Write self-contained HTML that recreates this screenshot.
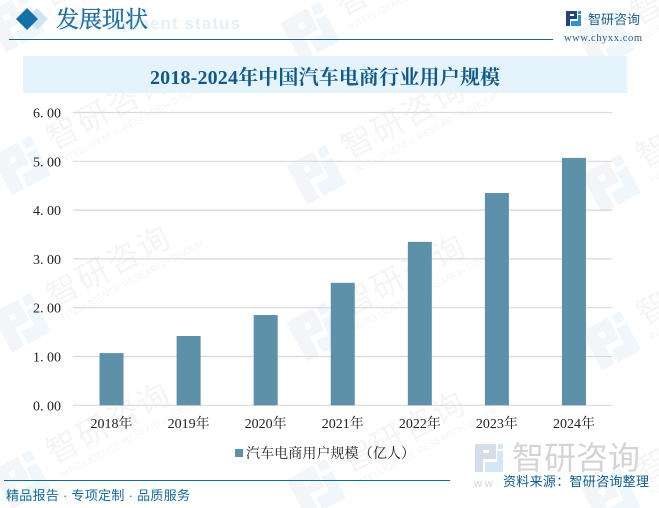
<!DOCTYPE html>
<html lang="zh">
<head>
<meta charset="utf-8">
<title>2018-2024年中国汽车电商行业用户规模</title>
<style>
html,body{margin:0;padding:0;background:#fff;}
svg{display:block;}
.serif{font-family:"Liberation Serif","Noto Serif CJK SC",serif;}
.sans{font-family:"Liberation Sans","Noto Sans CJK SC",sans-serif;}
</style>
</head>
<body>
<svg id="chart" xmlns="http://www.w3.org/2000/svg" width="659" height="508" viewBox="0 0 659 508">
  <rect width="659" height="508" fill="#ffffff"/>
  <g id="watermarks"></g>

  <g>
    <path d="M37 8L48 19L37 30L26 19Z" fill="#cfe3f0"/>
    <path d="M27 8L38 19L27 30L16 19Z" fill="#1570a8"/>
    <text class="sans" x="60" y="29" font-size="17" font-weight="700" fill="#e3f0fa" textLength="180" lengthAdjust="spacing">Development status</text>
    <text class="serif" x="56" y="27" font-size="23" fill="#1f6fa5" stroke="#1f6fa5" stroke-width="0.35">发展现状</text>
    <rect x="9" y="39" width="544" height="1" fill="#1c6390"/>
  </g>

  <g>
    <path d="M566 11H577V19H570V26H566ZM570 14V16H574V14Z" fill="#27407f" fill-rule="evenodd"/>
    <path d="M578 11H581V14H578ZM571 21H578V15H581V26H571Z" fill="#2b94d8"/>
    <text class="sans" x="588" y="24" font-size="13" fill="#1b5e8e">智研咨询</text>
    <text class="serif" x="564" y="41" font-size="10.5" fill="#1b5e8e" textLength="78" lengthAdjust="spacing">www.chyxx.com</text>
  </g>

  <rect x="23" y="56" width="604" height="37" fill="#e5f3fc"/>
  <text class="serif" x="150" y="84" font-size="20" font-weight="700" fill="#0f5a8a" textLength="350" lengthAdjust="spacing">2018-2024年中国汽车电商行业用户规模</text>

  <g id="grid"></g>
  <g id="yaxis"></g>
  <g id="bars"></g>
  <g id="xaxis"></g>

  <g>
    <rect x="235" y="449" width="8" height="8" fill="#5d91a9"/>
    <text class="serif" x="246" y="458" font-size="14" fill="#222222" textLength="169" lengthAdjust="spacing">汽车电商用户规模（亿人）</text>
  </g>

  <g>
    <path d="M475 444H496V459H483V472H475ZM483 450V453H489V450Z" fill="#d5dcea" fill-rule="evenodd"/>
    <path d="M498 444H503V449H498ZM485 462H497V451H503V472H485Z" fill="#d3e7f5"/>
    <text class="sans" x="512" y="469" font-size="32" fill="#d4d4d4">智研咨询</text>
    <text class="sans" x="474" y="487" font-size="11" fill="#d4d4d4">w w</text>
  </g>

  <rect x="4" y="480" width="446" height="1" fill="#136a9b"/>
  <text class="sans" x="6" y="500" font-size="13" fill="#136a9b" textLength="184" lengthAdjust="spacing">精品报告 · 专项定制 · 品质服务</text>
  <text class="sans" x="503" y="486" font-size="13" fill="#0b5d8f" textLength="146" lengthAdjust="spacing">资料来源：智研咨询整理</text>
</svg>
<script>
const categories = ['2018年', '2019年', '2020年', '2021年', '2022年', '2023年', '2024年'];
const userValues = [1.07, 1.42, 1.85, 2.51, 3.35, 4.35, 5.07];
const yTicks = [0, 1, 2, 3, 4, 5, 6];

const NS = 'http://www.w3.org/2000/svg';
const plotLeft = 73, plotRight = 612.5, plotTop = 112.5, plotBottom = 405.3;
const yMax = 6;
const barWidth = 24;
function yScale(v) { return plotBottom - (v / yMax) * (plotBottom - plotTop); }
function xCenter(i) { return plotLeft + (plotRight - plotLeft) * (i + 0.5) / categories.length; }
function make(tag, attrs, parent) {
  const el = document.createElementNS(NS, tag);
  for (const k in attrs) el.setAttribute(k, attrs[k]);
  parent.appendChild(el);
  return el;
}

const gridG = document.getElementById('grid');
const yG = document.getElementById('yaxis');
yTicks.forEach(function (t) {
  const line = make('line', { x1: plotLeft, x2: plotRight, y1: yScale(t), y2: yScale(t), stroke: '#d9d9d9', 'stroke-width': 1.2 }, gridG);
  
  
  const parts = t.toFixed(2).split('.');
  const label = make('text', { x: 33, y: yScale(t) + 5, 'font-size': 14, fill: '#222222', 'class': 'serif' }, yG);
  
  
  label.textContent = parts[0] + '.';
  const dec = make('tspan', { dx: 3.5 }, label);
  dec.textContent = parts[1];
});

const barsG = document.getElementById('bars');
const xG = document.getElementById('xaxis');
categories.forEach(function (c, i) {
  const top = yScale(userValues[i]);
  const bar = make('rect', { x: xCenter(i) - barWidth / 2, y: top, width: barWidth, height: plotBottom - top, fill: '#5d91a9' }, barsG);
  
  
  const label = make('text', { x: xCenter(i), y: 428, 'font-size': 14, fill: '#222222', 'text-anchor': 'middle', 'class': 'serif' }, xG);
  
  
  label.textContent = c;
});

const wmG = document.getElementById('watermarks');
const wmCols = [22, 317, 612];
const wmRows = [20, 163, 320, 477];
wmRows.forEach(function (ry, r) {
  wmCols.forEach(function (cx, c) {
    const g = make('g', { transform: 'translate(' + (cx - (r === 0 ? 6 : 0)) + ' ' + (ry + c * 9) + ') rotate(-28)' }, wmG);
    
    
    const dark = make('path', { d: 'M-24 -20H6V4H-10V24H-24ZM-10 -10V-4H-4V-10Z', fill: '#f4f5f9', 'fill-rule': 'evenodd' }, g);
    
    
    const light = make('path', { d: 'M10 -20H20V-10H10ZM-6 10H8V-6H20V24H-6Z', fill: '#f0f7fc', 'fill-rule': 'evenodd' }, g);
    
    
    const name = make('text', { x: 34, y: 4, 'font-size': 32, 'letter-spacing': 2, fill: '#f5f5f5', 'class': 'sans' }, g);
    
    
    name.textContent = '智研咨询';
    const sub = make('text', { x: 34, y: 20, 'font-size': 9.5, fill: '#f5f5f5', 'class': 'sans' }, g);
    
    
    sub.textContent = 'INTELLIGENCE RESEARCH GROUP';
  });
});
</script>
</body>
</html>
